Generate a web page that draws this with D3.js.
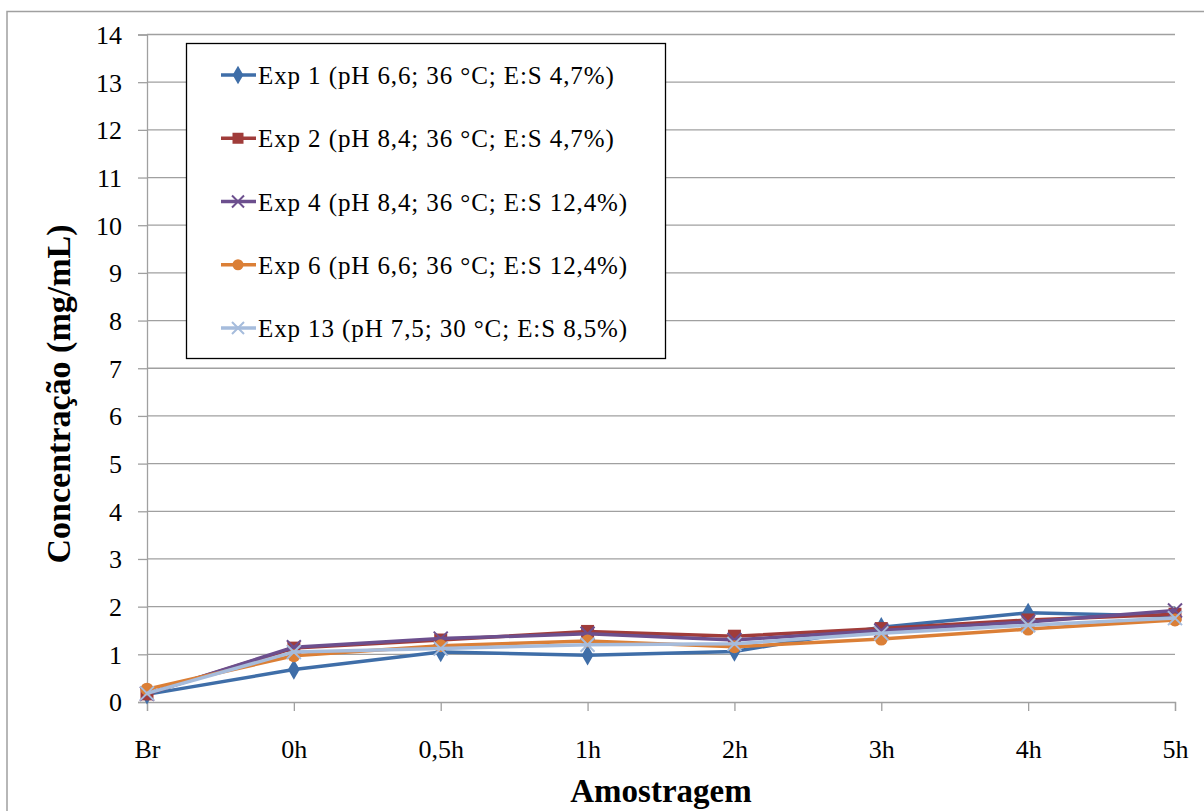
<!DOCTYPE html>
<html>
<head>
<meta charset="utf-8">
<script src="https://cdn.jsdelivr.net/npm/d3@7"></script>
<style>
  body { margin: 0; background: #fff; }
  svg { display: block; font-family: "Liberation Serif", "Times New Roman", serif; }
</style>
</head>
<body>
<svg width="1204" height="811"></svg>
<script>
// Categories and series values
const categories = ["Br", "0h", "0,5h", "1h", "2h", "3h", "4h", "5h"];
const yTicks = d3.range(0, 15);

const exp1 = [0.16, 0.68, 1.05, 0.98, 1.06, 1.57, 1.87, 1.80];
const exp2 = [0.17, 1.13, 1.30, 1.48, 1.38, 1.54, 1.72, 1.84];
const exp4 = [0.17, 1.15, 1.33, 1.43, 1.30, 1.50, 1.68, 1.92];
const exp6 = [0.27, 0.97, 1.18, 1.28, 1.16, 1.32, 1.53, 1.72];
const exp13 = [0.18, 1.05, 1.12, 1.20, 1.22, 1.44, 1.61, 1.76];

const seriesNames = [
  "Exp 1 (pH 6,6; 36 °C; E:S 4,7%)",
  "Exp 2 (pH 8,4; 36 °C; E:S 4,7%)",
  "Exp 4 (pH 8,4; 36 °C; E:S 12,4%)",
  "Exp 6 (pH 6,6; 36 °C; E:S 12,4%)",
  "Exp 13 (pH 7,5; 30 °C; E:S 8,5%)"
];

const series = [
  { name: seriesNames[0], values: exp1, color: "#3f6ea8", marker: "diamond" },
  { name: seriesNames[1], values: exp2, color: "#a03c3a", marker: "square" },
  { name: seriesNames[2], values: exp4, color: "#6c4f8e", marker: "x" },
  { name: seriesNames[3], values: exp6, color: "#db7f36", marker: "circle" },
  { name: seriesNames[4], values: exp13, color: "#a6bcdc", marker: "x" }
];

const serif = "'Liberation Serif', 'Times New Roman', serif";
const svg = d3.select("svg");

// Outer chart border
svg.append("rect")
  .attr("x", 7).attr("y", 11.5)
  .attr("width", 1204).attr("height", 811)
  .attr("fill", "none")
  .attr("stroke", "#a0a0a0")
  .attr("stroke-width", 1.5);

const plotLeft = 147, plotRight = 1175, plotTop = 34.5, plotBottom = 702;

const x = d3.scalePoint().domain(categories).range([plotLeft, plotRight]);
const y = d3.scaleLinear().domain([0, 14]).range([plotBottom, plotTop]);

// Horizontal gridlines
svg.append("g")
  .selectAll("line")
  .data(yTicks.filter(d => d > 0))
  .join("line")
  .attr("x1", plotLeft).attr("x2", plotRight)
  .attr("y1", d => y(d)).attr("y2", d => y(d))
  .attr("stroke", "#a0a0a0")
  .attr("stroke-width", 1.3);

// Y axis
const yAxis = svg.append("g")
  .attr("transform", `translate(${plotLeft},0)`)
  .call(d3.axisLeft(y).tickValues(yTicks).tickSize(9).tickPadding(16));
yAxis.select(".domain").attr("stroke", "#a0a0a0").attr("stroke-width", 1.3);
yAxis.selectAll(".tick line").attr("stroke", "#a0a0a0").attr("stroke-width", 1.3);
yAxis.selectAll(".tick text")
  .attr("fill", "#000")
  .attr("dy", "0.34em")
  .style("font-family", serif)
  .style("font-size", "26px");

// X axis
const xAxis = svg.append("g")
  .attr("transform", `translate(0,${plotBottom})`)
  .call(d3.axisBottom(x).tickSize(9).tickPadding(29));
xAxis.select(".domain").attr("stroke", "#a0a0a0").attr("stroke-width", 1.3);
xAxis.selectAll(".tick line").attr("stroke", "#a0a0a0").attr("stroke-width", 1.3);
xAxis.selectAll(".tick text")
  .attr("fill", "#000")
  .style("font-family", serif)
  .style("font-size", "26px");

// Axis titles
svg.append("text")
  .attr("x", 661).attr("y", 802)
  .attr("text-anchor", "middle")
  .style("font-size", "33px")
  .style("font-weight", "bold")
  .text("Amostragem");

svg.append("text")
  .attr("transform", "translate(70,394) rotate(-90)")
  .attr("text-anchor", "middle")
  .style("font-size", "34px")
  .style("font-weight", "bold")
  .text("Concentração (mg/mL)");

// Marker drawing
function drawMarker(g, type, color, size) {
  if (type === "diamond") {
    g.append("path").attr("d", d3.symbol(d3.symbolDiamond, size * 10)()).attr("fill", color);
  } else if (type === "square") {
    g.append("rect").attr("x", -size / 2 - 0.5).attr("y", -size / 2 - 0.5)
      .attr("width", size + 1).attr("height", size + 1).attr("fill", color);
  } else if (type === "circle") {
    g.append("circle").attr("r", size / 2 + 0.5).attr("fill", color);
  } else {
    const s = size / 2 + 1;
    g.append("path")
      .attr("d", `M${-s},${-s}L${s},${s}M${-s},${s}L${s},${-s}`)
      .attr("stroke", color).attr("stroke-width", 2).attr("fill", "none");
  }
}

const line = d3.line()
  .x((d, i) => x(categories[i]))
  .y(d => y(d));

series.forEach(s => {
  svg.append("path")
    .datum(s.values)
    .attr("fill", "none")
    .attr("stroke", s.color)
    .attr("stroke-width", 3.5)
    .attr("stroke-linejoin", "round")
    .attr("d", line);

  s.values.forEach((v, i) => {
    const g = svg.append("g").attr("transform", `translate(${x(categories[i])},${y(v)})`);
    drawMarker(g, s.marker, s.color, 12);
  });
});

// Legend
const legend = svg.append("g");
legend.append("rect")
  .attr("x", 186.5).attr("y", 43.5)
  .attr("width", 479).attr("height", 315)
  .attr("fill", "#fff")
  .attr("stroke", "#000")
  .attr("stroke-width", 1.3);

const legendY = d3.scalePoint().domain(seriesNames).range([75, 328]);
series.forEach(s => {
  const g = legend.append("g").attr("transform", `translate(0,${legendY(s.name)})`);
  g.append("line")
    .attr("x1", 221).attr("x2", 256)
    .attr("stroke", s.color).attr("stroke-width", 3.5);
  const m = g.append("g").attr("transform", "translate(238,0)");
  drawMarker(m, s.marker, s.color, 10);
  g.append("text")
    .attr("x", 258).attr("y", 9)
    .style("font-size", "25px")
    .style("letter-spacing", "0.9px")
    .text(s.name);
});
</script>
</body>
</html>
